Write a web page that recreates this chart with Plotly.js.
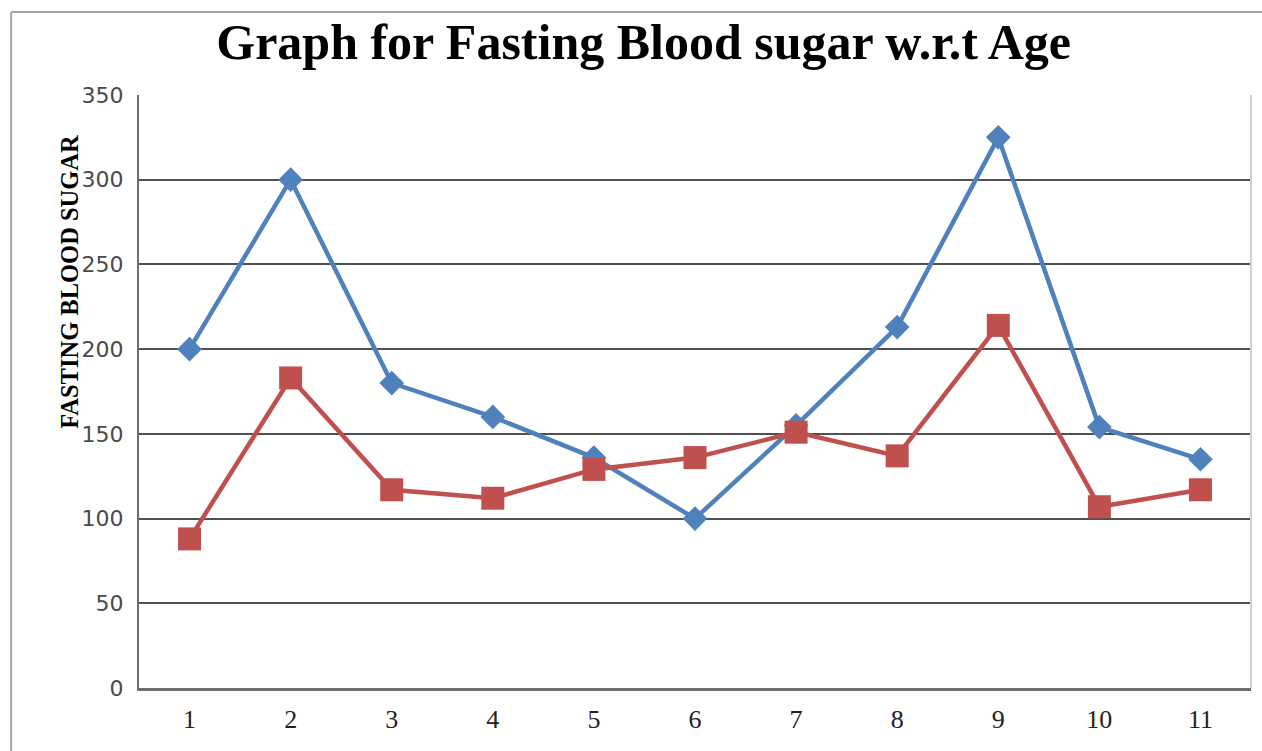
<!DOCTYPE html>
<html>
<head>
<meta charset="utf-8">
<script src="https://cdn.plot.ly/plotly-3.0.1.min.js"></script>
<style>
html,body{margin:0;padding:0;background:#fff;}
#chart{width:1262px;height:751px;}
</style>
</head>
<body>
<div id="chart"></div>
<script>
const categories = ["1","2","3","4","5","6","7","8","9","10","11"];
const seriesA = [200, 300, 180, 160, 136, 100, 155, 213, 325, 154, 135];
const seriesB = [88, 183, 117, 112, 129, 136, 151, 137, 214, 107, 117];
const yTicks = [0, 50, 100, 150, 200, 250, 300, 350];
const titleText = "Graph for Fasting Blood sugar w.r.t Age";
const yTitleText = "FASTING BLOOD SUGAR";

const xIdx = categories.map((c, i) => i + 1);

const traces = [
  {
    x: xIdx, y: seriesA, type: "scatter", mode: "lines+markers",
    line: {color: "#4f81bd", width: 4.5},
    marker: {symbol: "diamond", size: 19, color: "#4f81bd"},
    showlegend: false, hoverinfo: "skip"
  },
  {
    x: xIdx, y: seriesB, type: "scatter", mode: "lines+markers",
    line: {color: "#c0504d", width: 4.5},
    marker: {symbol: "square", size: 23, color: "#c0504d"},
    showlegend: false, hoverinfo: "skip"
  }
];

const layout = {
  width: 1262, height: 751,
  margin: {l: 139, r: 11, t: 95, b: 63},
  paper_bgcolor: "#fff", plot_bgcolor: "#fff",
  title: {
    text: "<b>" + titleText + "</b>",
    font: {family: "Liberation Serif, serif", size: 50, color: "#000"},
    x: 0.51, xanchor: "center", y: 0.945, yanchor: "middle"
  },
  xaxis: {
    range: [0.5, 11.5],
    tickmode: "array", tickvals: xIdx, ticktext: categories,
    showgrid: false, zeroline: false,
    showline: true, linecolor: "#6e6e6e", linewidth: 3,
    ticks: "", ticklen: 0, ticklabelstandoff: 6,
    tickfont: {family: "Liberation Serif, serif", size: 26, color: "#222"},
    fixedrange: true
  },
  yaxis: {
    range: [0, 350],
    tickmode: "array", tickvals: yTicks,
    showgrid: true, gridcolor: "#505050", gridwidth: 2,
    zeroline: false,
    showline: true, linecolor: "#6e6e6e", linewidth: 2,
    ticks: "", ticklen: 0, ticklabelstandoff: 9,
    tickfont: {family: "DejaVu Sans, sans-serif", size: 22, color: "#4a4a4a"},
    fixedrange: true
  },
  shapes: [
    {type: "line", xref: "paper", yref: "paper", x0: -0.115, x1: -0.115, y0: -0.2, y1: 1.14,
     line: {color: "#a6a6a6", width: 2}},
    {type: "line", xref: "paper", yref: "paper", x0: -0.115, x1: 1.02, y0: 1.14, y1: 1.14,
     line: {color: "#a6a6a6", width: 2}},
    {type: "line", xref: "paper", yref: "paper", x0: 1, x1: 1, y0: 0, y1: 1,
     line: {color: "#d0d0d0", width: 2}}
  ],
  annotations: [
    {
      text: "<b>" + yTitleText + "</b>", textangle: -90,
      xref: "paper", yref: "paper", x: -0.062, y: 0.685,
      xanchor: "center", yanchor: "middle", showarrow: false,
      font: {family: "Liberation Serif, serif", size: 24.5, color: "#000"}
    }
  ]
};

Plotly.newPlot("chart", traces, layout, {staticPlot: true, displayModeBar: false});
</script>
</body>
</html>
